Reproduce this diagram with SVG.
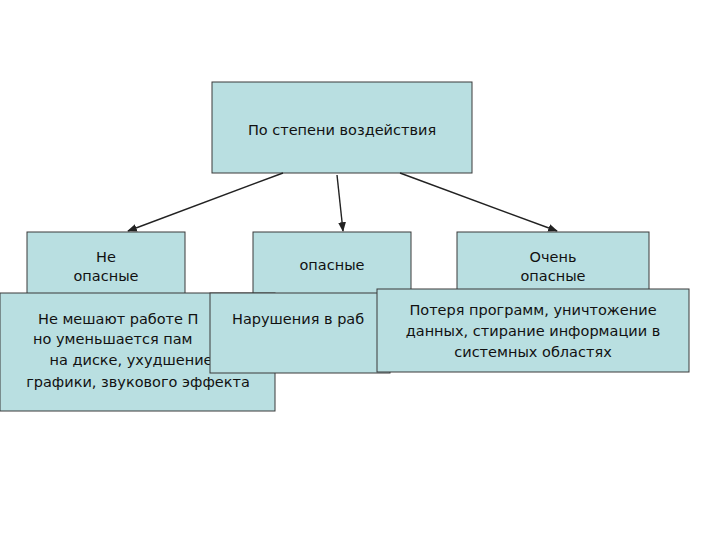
<svg xmlns="http://www.w3.org/2000/svg" width="720" height="540" viewBox="0 0 720 540">
<defs>
<style>
.b{fill:#b9dfe1;stroke:#3a3a3a;stroke-width:1}
text{font-family:"DejaVu Sans","Liberation Sans",sans-serif;font-size:14.5px;fill:#111}
.c{text-anchor:middle}
.e{stroke:#222;stroke-width:1.4;fill:none;marker-end:url(#a)}
</style>
<marker id="a" viewBox="0 0 10 10" refX="9" refY="5" markerWidth="7" markerHeight="7" orient="auto"><path d="M0,1 L10,5 L0,9 z" fill="#222"/></marker>
</defs>
<rect width="720" height="540" fill="#fff"/>
<g id="top"><rect class="b" x="212" y="82" width="260" height="91"/><text class="c" x="342" y="135">По степени воздействия</text></g>
<g id="connectors">
<line class="e" x1="283" y1="173" x2="128" y2="231"/>
<line class="e" x1="337" y1="175" x2="343" y2="231"/>
<line class="e" x1="400" y1="173" x2="557" y2="231"/>
</g>
<g id="n1"><rect class="b" x="27" y="232" width="158" height="70"/><text class="c" x="106" y="262">Не</text><text class="c" x="106" y="281">опасные</text></g>
<g id="n2"><rect class="b" x="253" y="232" width="158" height="70"/><text class="c" x="332" y="270">опасные</text></g>
<g id="n3"><rect class="b" x="457" y="232" width="192" height="70"/><text class="c" x="553" y="262">Очень</text><text class="c" x="553" y="281">опасные</text></g>
<g id="d1"><rect class="b" x="0" y="293" width="275" height="118"/>
<text x="38" y="324">Не мешают работе П</text>
<text x="33" y="344">но уменьшается пам</text>
<text class="c" x="131" y="365">на диске, ухудшение</text>
<text class="c" x="138" y="387">графики, звукового эффекта</text></g>
<g id="d2"><rect class="b" x="210" y="293" width="180" height="80"/><text x="232" y="324">Нарушения в раб</text></g>
<g id="d3"><rect class="b" x="377" y="289" width="312" height="83"/>
<text class="c" x="533" y="315">Потеря программ, уничтожение</text>
<text class="c" x="533" y="336">данных, стирание информации в</text>
<text class="c" x="533" y="357">системных областях</text></g>
</svg>
